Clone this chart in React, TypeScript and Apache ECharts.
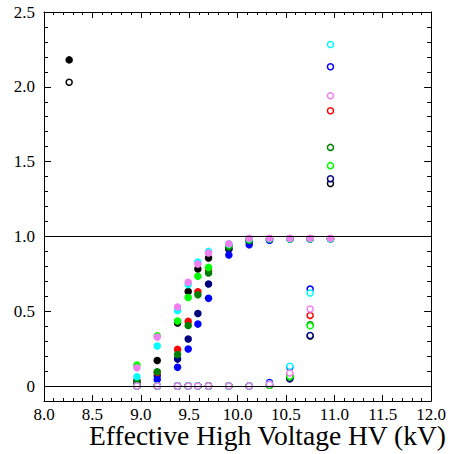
import React, { useEffect, useRef } from "react";
import * as echarts from "echarts";

// High-voltage settings (kV)
const hv = [8.96, 9.17, 9.38, 9.49, 9.59, 9.7, 9.91, 10.12, 10.33, 10.54, 10.75, 10.96];

// Filled markers (efficiency) per colour
const effBlack = [0.0, 0.171, 0.421, 0.632, 0.782, 0.856, 0.916, 0.98, 0.985, 0.985, 0.985, 0.985];
const effNavy = [0.035, 0.069, 0.18, 0.314, 0.485, 0.682, 0.916, 0.965, 0.978, 0.985, 0.985, 0.985];
const effBlue = [0.022, 0.044, 0.125, 0.247, 0.414, 0.586, 0.876, 0.944, 0.975, 0.985, 0.985, 0.985];
const effRed = [0.03, 0.09, 0.245, 0.432, 0.63, 0.77, 0.94, 0.98, 0.985, 0.985, 0.985, 0.985];
const effDarkGreen = [0.031, 0.095, 0.211, 0.405, 0.61, 0.755, 0.93, 0.973, 0.983, 0.985, 0.985, 0.985];
const effGreen = [0.14, 0.336, 0.434, 0.592, 0.733, 0.793, 0.945, 0.98, 0.985, 0.985, 0.985, 0.985];
const effCyan = [0.062, 0.267, 0.505, 0.678, 0.829, 0.9, 0.95, 0.985, 0.985, 0.985, 0.985, 0.985];
const effPink = [0.122, 0.327, 0.528, 0.693, 0.815, 0.889, 0.951, 0.987, 0.988, 0.988, 0.988, 0.988];

// Open markers per colour
const openBlack = [0, 0, 0, 0, 0, 0, 0, 0, 0.005, 0.05, 0.335, 1.354];
const openNavy = [0, 0, 0, 0, 0, 0, 0, 0, 0.01, 0.049, 0.338, 1.386];
const openBlue = [0, 0, 0, 0, 0, 0, 0, 0, 0.024, 0.125, 0.648, 2.134];
const openRed = [0, 0, 0, 0, 0, 0, 0, 0, 0.006, 0.07, 0.472, 1.84];
const openDarkGreen = [0, 0, 0, 0, 0, 0, 0, 0, 0.006, 0.06, 0.41, 1.595];
const openGreen = [0, 0, 0, 0, 0, 0, 0, 0, 0.006, 0.065, 0.403, 1.473];
const openCyan = [0, 0, 0, 0, 0, 0, 0, 0, 0.015, 0.132, 0.622, 2.283];
const openPink = [0, 0, 0, 0, 0, 0, 0, 0, 0.013, 0.087, 0.515, 1.94];

// Isolated black points
const extraHv = [8.26];
const extraFilled = [2.18];
const extraOpen = [2.03];

const xTickLabels = ["8.0", "8.5", "9.0", "9.5", "10.0", "10.5", "11.0", "11.5", "12.0"];
const yMajor = [0, 0.5, 1.0, 1.5, 2.0, 2.5];
const yMinor = [0.1, 0.2, 0.3, 0.4, 0.6, 0.7, 0.8, 0.9, 1.1, 1.2, 1.3, 1.4, 1.6, 1.7, 1.8, 1.9, 2.1, 2.2, 2.3, 2.4];
const refLines = [0, 1];
const xTitle = "Effective High Voltage HV (kV)";

const FONT = "'Liberation Serif', 'Times New Roman', serif";

const pairs = (xs: number[], ys: number[]) => xs.map((x, i) => [x, ys[i]]);

export default function App() {
  const ref = useRef<HTMLDivElement>(null);
  useEffect(() => {
    if (!ref.current) return;
    document.body.style.margin = "0";
    const chart = echarts.init(ref.current, null, { renderer: "svg" });

    const filled = (name: string, color: string, ys: number[], extra?: number[][]) => ({
      name,
      type: "scatter",
      symbol: "circle",
      symbolSize: 7.5,
      itemStyle: { color, borderWidth: 0, opacity: 1 },
      data: extra ? pairs(hv, ys).concat(extra) : pairs(hv, ys),
      silent: true,
    });
    const open = (name: string, color: string, ys: number[], extra?: number[][]) => ({
      name,
      type: "scatter",
      symbol: "circle",
      symbolSize: 6,
      itemStyle: { color: "#ffffff", borderColor: color, borderWidth: 1.5, opacity: 1 },
      data: extra ? pairs(hv, ys).concat(extra) : pairs(hv, ys),
      silent: true,
    });

    const yAxisBase = {
      type: "value",
      min: -0.1,
      max: 2.5,
      splitLine: { show: false },
    };
    const xAxisBase = {
      type: "value",
      min: 8,
      max: 12,
      interval: 0.5,
      axisLine: { show: true, onZero: false, lineStyle: { color: "#000", width: 1 } },
      axisTick: { show: true, inside: true, length: 6, lineStyle: { color: "#000" } },
      minorTick: { show: true, splitNumber: 5, length: 3, lineStyle: { color: "#000" } },
      splitLine: { show: false },
    };

    chart.setOption({
      animation: false,
      backgroundColor: "#ffffff",
      textStyle: { fontFamily: FONT },
      grid: { left: 44, right: 15, top: 12, bottom: 53, containLabel: false },
      xAxis: [
        {
          ...xAxisBase,
          position: "bottom",
          axisLabel: {
            color: "#000",
            fontFamily: FONT,
            fontSize: 17,
            margin: 5,
            formatter: (v: number) => {
              const i = Math.round((v - 8) / 0.5);
              return xTickLabels[i] ?? "";
            },
          },
        },
        {
          ...xAxisBase,
          position: "top",
          axisLabel: { show: false },
        },
      ],
      yAxis: [
        {
          ...yAxisBase,
          position: "left",
          axisLine: { show: true, onZero: false, lineStyle: { color: "#000", width: 1 } },
          axisTick: { show: true, inside: true, length: 7, customValues: yMajor, lineStyle: { color: "#000" } },
          axisLabel: {
            color: "#000",
            fontFamily: FONT,
            fontSize: 17,
            margin: 9,
            customValues: yMajor,
            formatter: (v: number) => (Math.abs(v) < 1e-9 ? "0" : v.toFixed(1)),
          },
        },
        {
          ...yAxisBase,
          position: "left",
          axisLine: { show: false, onZero: false },
          axisTick: { show: true, inside: true, length: 4, customValues: yMinor, lineStyle: { color: "#000" } },
          axisLabel: { show: false },
        },
        {
          ...yAxisBase,
          position: "right",
          axisLine: { show: true, onZero: false, lineStyle: { color: "#000", width: 1 } },
          axisTick: { show: true, inside: true, length: 7, customValues: yMajor, lineStyle: { color: "#000" } },
          axisLabel: { show: false },
        },
        {
          ...yAxisBase,
          position: "right",
          axisLine: { show: false, onZero: false },
          axisTick: { show: true, inside: true, length: 4, customValues: yMinor, lineStyle: { color: "#000" } },
          axisLabel: { show: false },
        },
      ],
      graphic: [
        {
          type: "text",
          x: 446,
          y: 435,
          style: {
            text: xTitle,
            fill: "#000",
            fontFamily: FONT,
            fontSize: 27.5,
            lineHeight: 26,
            align: "right",
            verticalAlign: "middle",
          },
        },
      ],
      series: [
        {
          type: "scatter",
          data: [],
          silent: true,
          markLine: {
            silent: true,
            symbol: "none",
            label: { show: false },
            lineStyle: { color: "#000", width: 1, type: "solid" },
            data: refLines.map((y) => ({ yAxis: y })),
          },
        },
        filled("black", "#000000", effBlack, pairs(extraHv, extraFilled)),
        filled("navy", "#000080", effNavy),
        filled("blue", "#0000ff", effBlue),
        filled("red", "#ff0000", effRed),
        filled("darkgreen", "#008000", effDarkGreen),
        filled("green", "#00ff00", effGreen),
        filled("cyan", "#00ffff", effCyan),
        filled("pink", "#f080f0", effPink),
        open("oblack", "#000000", openBlack, pairs(extraHv, extraOpen)),
        open("onavy", "#000080", openNavy),
        open("oblue", "#0000ff", openBlue),
        open("ored", "#ff0000", openRed),
        open("odarkgreen", "#008000", openDarkGreen),
        open("ogreen", "#00ff00", openGreen),
        open("ocyan", "#00ffff", openCyan),
        open("opink", "#f080f0", openPink),
      ],
    });
    return () => chart.dispose();
  }, []);
  return <div ref={ref} style={{ width: 449, height: 454 }} />;
}
